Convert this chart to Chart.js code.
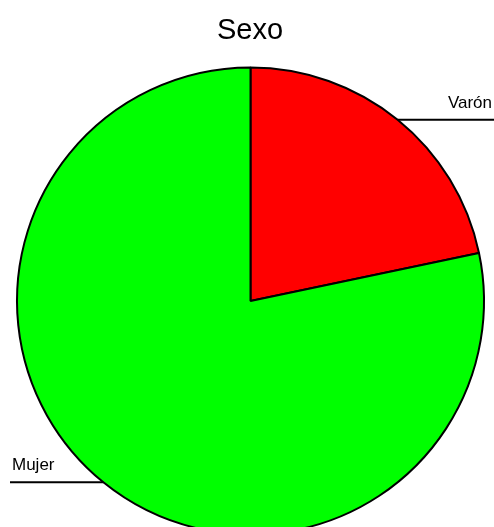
<!DOCTYPE html>
<html>
<head>
<meta charset="utf-8">
<script src="https://cdn.jsdelivr.net/npm/chart.js@4"></script>
<style>
  html, body { margin: 0; padding: 0; background: #fff; overflow: hidden; }
  #wrap { width: 494px; height: 527px; overflow: hidden; }
</style>
</head>
<body>
<div id="wrap"><canvas id="sexChart" width="494" height="600"></canvas></div>
<script>
const labels = ["Varón", "Mujer"];
const values = [21.7, 78.3];
const colors = ["#ff0000", "#00ff00"];
const title = "Sexo";

// title + R-style labels with a leader line
const pieLabels = {
  id: "pieLabels",
  afterDraw(chart) {
    const ctx = chart.ctx;
    ctx.save();
    ctx.fillStyle = "#000";
    ctx.font = "29px 'Liberation Sans', Arial, sans-serif";
    ctx.textAlign = "center";
    ctx.textBaseline = "alphabetic";
    ctx.fillText(title, 250, 39);

    ctx.font = "17px 'Liberation Sans', Arial, sans-serif";
    ctx.strokeStyle = "#000";
    ctx.lineWidth = 2;
    const meta = chart.getDatasetMeta(0);
    meta.data.forEach((arc, i) => {
      const mid = (arc.startAngle + arc.endAngle) / 2;
      const px = arc.x + Math.cos(mid) * arc.outerRadius;
      const py = arc.y + Math.sin(mid) * arc.outerRadius;
      const right = px > arc.x;
      const endX = right ? 494 : 10;
      ctx.beginPath();
      ctx.moveTo(px, py);
      ctx.lineTo(endX, py);
      ctx.stroke();
      ctx.textAlign = right ? "right" : "left";
      ctx.fillText(labels[i], right ? 492 : 12, py - 12);
    });
    ctx.restore();
  }
};

new Chart(document.getElementById("sexChart"), {
  type: "pie",
  data: {
    labels,
    datasets: [{
      data: values,
      backgroundColor: colors,
      borderColor: "#000",
      borderWidth: 2,
      borderAlign: "center"
    }]
  },
  options: {
    responsive: false,
    animation: false,
    layout: { padding: { left: 16, right: 9, top: 66, bottom: 64 } },
    plugins: {
      legend: { display: false },
      tooltip: { enabled: false },
      title: { display: false }
    }
  },
  plugins: [pieLabels]
});
</script>
</body>
</html>
